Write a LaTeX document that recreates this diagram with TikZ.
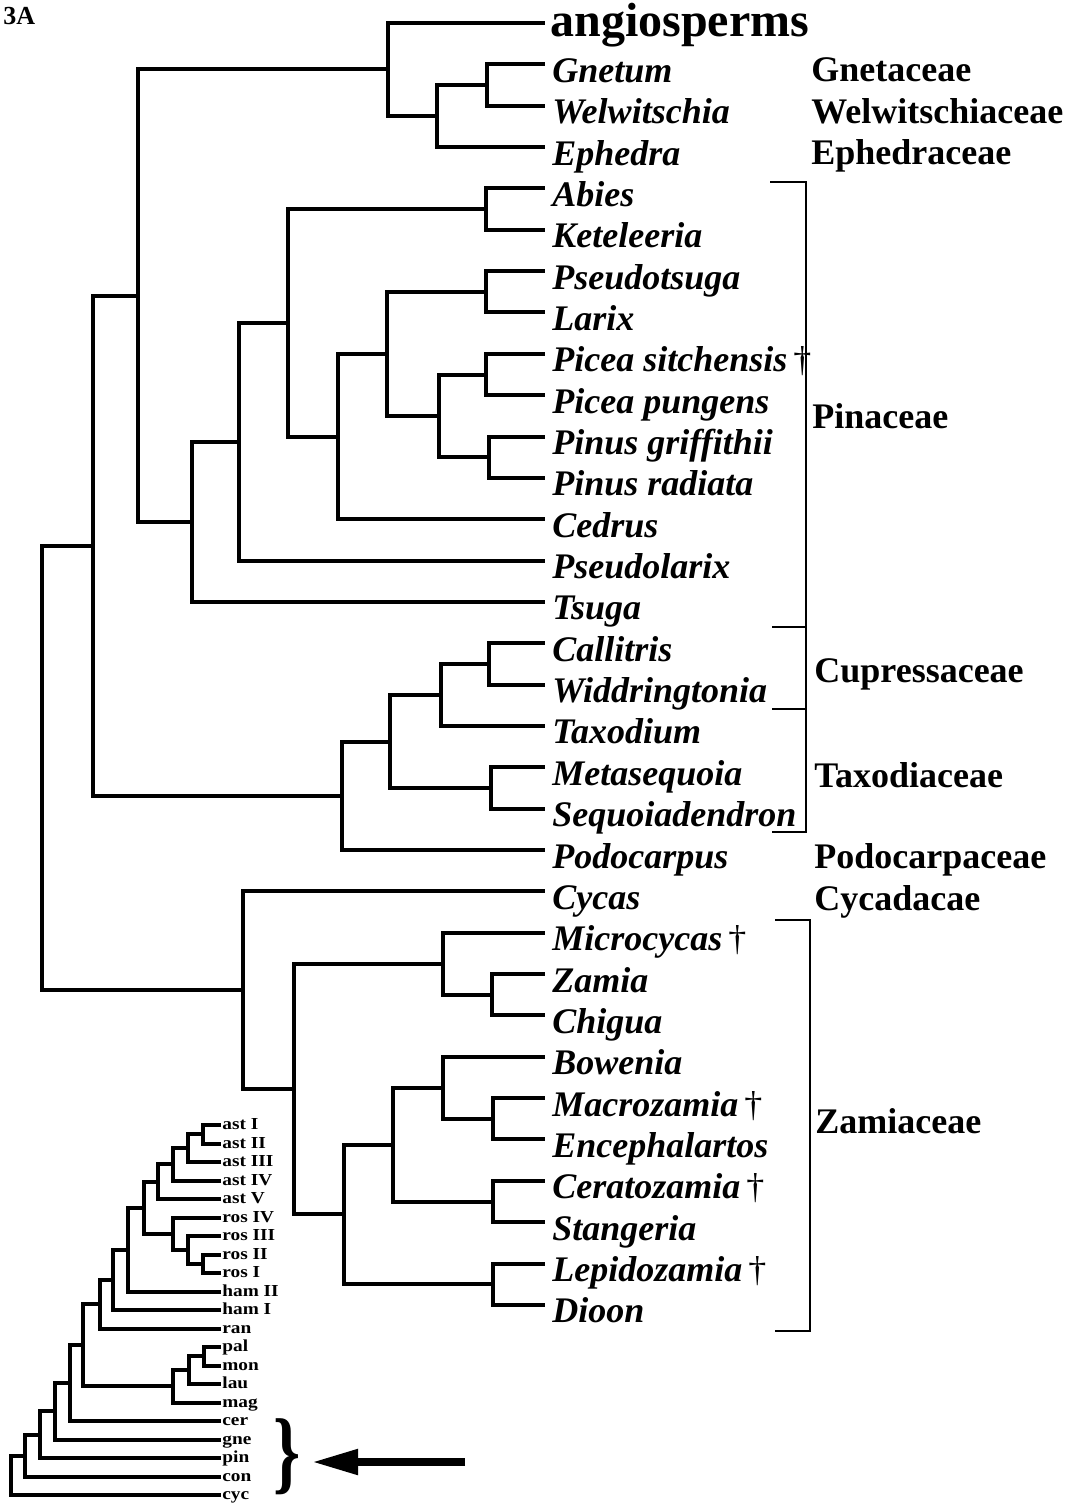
\documentclass[tikz,border=0pt]{standalone}
\usepackage{fontspec}
\setmainfont{Liberation Serif}
\newfontfamily\insetfont[FakeStretch=1.15]{Liberation Serif}
\newfontfamily\bracefont[FakeStretch=0.75]{Liberation Serif}
\usetikzlibrary{arrows.meta,calc}
\tikzset{
  branch/.style={line width=2pt},
  bracket/.style={line width=1pt},
  taxon/.style={anchor=west,inner xsep=3.5pt,inner ysep=0pt,text height=18pt,text depth=0pt,
    font=\fontsize{18}{18}\selectfont\bfseries\itshape},
  toptaxon/.style={anchor=west,inner xsep=2.5pt,inner ysep=0pt,text height=14pt,text depth=0pt,
    font=\fontsize{24}{24}\selectfont\bfseries},
  family/.style={anchor=base west,inner sep=0pt,font=\fontsize{18}{18}\selectfont\bfseries},
  leaf/.style={anchor=west,inner xsep=.5pt,inner ysep=0pt,text height=4.5pt,text depth=0pt,
    font=\insetfont\fontsize{8.4}{8.4}\selectfont\bfseries},
  pointer/.style={-{Triangle[length=23pt,width=12pt]},line width=4pt,shorten >=5.5pt},
}
\newcommand{\extinct}{\,{\mdseries\upshape †}}

\begin{document}
\begin{tikzpicture}[x=.5pt,y=-.5pt]
  \useasboundingbox (0,0) rectangle (1080,1503);
  \node[anchor=base west,inner sep=0pt,font=\fontsize{13}{13}\selectfont\bfseries] (panel) at (3,25) {3A};

  \node[toptaxon] (angio) at (545,23) {angiosperms};
  \foreach \n/\t [count=\i] in {gnetum/Gnetum,welw/Welwitschia,ephedra/Ephedra,abies/Abies,
      kete/Keteleeria,pseudots/Pseudotsuga,larix/Larix,piceas/Picea sitchensis\extinct,
      piceap/Picea pungens,pinusg/Pinus griffithii,pinusr/Pinus radiata,cedrus/Cedrus,
      pseudol/Pseudolarix,tsuga/Tsuga,callitris/Callitris,widd/Widdringtonia,taxodium/Taxodium,
      metaseq/Metasequoia,sequoia/Sequoiadendron,podo/Podocarpus,cycas/Cycas,
      microc/Microcycas\extinct,zamia/Zamia,chigua/Chigua,bowenia/Bowenia,
      macroz/Macrozamia\extinct,enceph/Encephalartos,cerato/Ceratozamia\extinct,
      stangeria/Stangeria,lepido/Lepidozamia\extinct,dioon/Dioon}
    \node[taxon] (\n) at (545,{23+41.35*\i}) {\t};

  \coordinate (gw) at (487,85);
  \coordinate (gnet) at (437,116);
  \coordinate (antho) at (388,69.5);
  \coordinate (ak) at (486,209.1);
  \coordinate (pl) at (486,291.8);
  \coordinate (pc) at (486,374.5);
  \coordinate (pn) at (489,457.2);
  \coordinate (pcn) at (439,415.8);
  \coordinate (ppl) at (387,353.8);
  \coordinate (ced) at (338,436.5);
  \coordinate (pina) at (288,322.8);
  \coordinate (pdl) at (239,441.7);
  \coordinate (tsg) at (192,521.8);
  \coordinate (anp) at (138,295.6);
  \coordinate (cw) at (489,663.9);
  \coordinate (ctx) at (441,694.9);
  \coordinate (ms) at (491,788);
  \coordinate (cupt) at (390,741.5);
  \coordinate (podc) at (342,795.7);
  \coordinate (conif) at (93,545.7);
  \coordinate (zc) at (492,994.7);
  \coordinate (mic) at (443,963.7);
  \coordinate (me) at (493,1118.8);
  \coordinate (bow) at (443,1087.8);
  \coordinate (cs) at (493,1201.5);
  \coordinate (bcs) at (393,1144.6);
  \coordinate (ld) at (493,1284.2);
  \coordinate (bld) at (344,1214.4);
  \coordinate (zam) at (294,1089);
  \coordinate (cyca) at (243,990.2);
  \coordinate (root) at (42,768);

  \foreach \p/\c in {gw/gnetum,gw/welw,gnet/gw,gnet/ephedra,antho/angio,antho/gnet,
      ak/abies,ak/kete,pl/pseudots,pl/larix,pc/piceas,pc/piceap,pn/pinusg,pn/pinusr,
      pcn/pc,pcn/pn,ppl/pl,ppl/pcn,ced/ppl,ced/cedrus,pina/ak,pina/ced,pdl/pina,pdl/pseudol,
      tsg/pdl,tsg/tsuga,anp/antho,anp/tsg,cw/callitris,cw/widd,ctx/cw,ctx/taxodium,
      ms/metaseq,ms/sequoia,cupt/ctx,cupt/ms,podc/cupt,podc/podo,conif/anp,conif/podc,
      zc/zamia,zc/chigua,mic/microc,mic/zc,me/macroz,me/enceph,bow/bowenia,bow/me,
      cs/cerato,cs/stangeria,bcs/bow,bcs/cs,ld/lepido,ld/dioon,bld/bcs,bld/ld,
      zam/mic,zam/bld,cyca/cycas,cyca/zam,root/conif,root/cyca}
    \draw[branch] (\p) |- (\c);

  \draw[bracket] (770,182) -| (806,832) -- (772,832);
  \draw[bracket] (772,627) -- (806,627);
  \draw[bracket] (772,709) -- (806,709);
  \draw[bracket] (775,920) -| (810,1331) -- (775,1331);

  \node[family] (gnetac) at (811,82) {Gnetaceae};
  \node[family] (welwac) at (811,124) {Welwitschiaceae};
  \node[family] (ephac) at (811,165) {Ephedraceae};
  \node[family] (pinac) at (812,428) {Pinaceae};
  \node[family] (cupac) at (814,682) {Cupressaceae};
  \node[family] (taxac) at (814,787) {Taxodiaceae};
  \node[family] (podac) at (814,868) {Podocarpaceae};
  \node[family] (cycac) at (814,910) {Cycadacae};
  \node[family] (zamac) at (815,1133) {Zamiaceae};

  \foreach \n/\t [count=\j from 0] in {astI/ast I,astII/ast II,astIII/ast III,astIV/ast IV,
      astV/ast V,rosIV/ros IV,rosIII/ros III,rosII/ros II,rosI/ros I,hamII/ham II,hamI/ham I,
      ran/ran,pal/pal,mon/mon,lau/lau,mag/mag,cer/cer,gne/gne,pin/pin,con/con,cyc/cyc}
    \node[leaf] (\n) at (221,{1125+18.5*\j}) {\t};

  \coordinate (a12) at (203,1134.25);
  \coordinate (a3) at (188,1148.1);
  \coordinate (a4) at (173,1164.3);
  \coordinate (a5) at (158,1181.7);
  \coordinate (r12) at (203,1263.75);
  \coordinate (r3) at (188,1249.9);
  \coordinate (r4) at (173,1233.7);
  \coordinate (ar) at (144,1207.7);
  \coordinate (h2) at (128,1249.6);
  \coordinate (h1) at (113,1279.8);
  \coordinate (ra) at (100,1304.2);
  \coordinate (pm) at (204,1356.25);
  \coordinate (pml) at (189,1370.1);
  \coordinate (mgn) at (173,1386.3);
  \coordinate (eu) at (83,1345.3);
  \coordinate (ce) at (70,1383.1);
  \coordinate (gn) at (55,1411.3);
  \coordinate (pi) at (40,1434.7);
  \coordinate (co) at (25,1455.6);
  \coordinate (iroot) at (11,1475.3);

  \foreach \p/\c in {a12/astI,a12/astII,a3/a12,a3/astIII,a4/a3,a4/astIV,a5/a4,a5/astV,
      r12/rosII,r12/rosI,r3/rosIII,r3/r12,r4/rosIV,r4/r3,ar/a5,ar/r4,h2/ar,h2/hamII,
      h1/h2,h1/hamI,ra/h1,ra/ran,pm/pal,pm/mon,pml/pm,pml/lau,mgn/pml,mgn/mag,
      eu/ra,eu/mgn,ce/eu,ce/cer,gn/ce,gn/gne,pi/gn,pi/pin,co/pi,co/con,iroot/co,iroot/cyc}
    \draw[branch] (\p) |- (\c);

  \node[inner sep=0pt,font=\bracefont\fontsize{46}{46}\selectfont\bfseries] (brace) at (287,1457) {\}};
  \coordinate (tail) at (465,1462);
  \draw[pointer] (tail) -- (tail -| brace.east);
\end{tikzpicture}
\end{document}
